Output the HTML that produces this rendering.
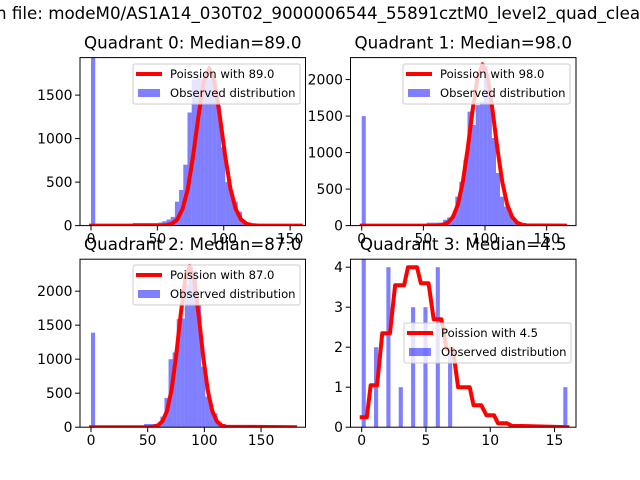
<!DOCTYPE html>
<html><head><meta charset="utf-8"><style>
html,body{margin:0;padding:0;background:#fff}
svg{display:block}
text{font-family:"DejaVu Sans","Liberation Sans",sans-serif}
</style></head><body>
<svg id="fig" width="640" height="480" viewBox="0 0 640 480" xmlns="http://www.w3.org/2000/svg">
<rect width="640" height="480" fill="#fff"/>
<text x="-4" y="19" font-size="16.7" fill="#000">n file: modeM0/AS1A14_030T02_9000006544_55891cztM0_level2_quad_clean.evt</text>
</svg>
<script>
// ---- data ----
const q0BinWidth = 3.16;
const q0BinStart = 10;
const q0Counts = [30,30,30,30,30,30,35,50,70,100,275,410,700,1300,1680,1700,1690,1700,1680,1650,1380,900,500,390,275,160,60,25,8];
const q0ZeroCount = 1930;
const q0CurveX = [0,50,57,61,65,69,73,77,81,85,89,93,97,101,105,109,113,117,121,125,158];
const q0CurveY = [0,0,6,22,71,192,427,810,1262,1657,1810,1657,1262,810,427,192,71,22,6,1,0];

const q1BinWidth = 3.3;
const q1BinStart = 16;
const q1Counts = [40,40,40,40,80,110,145,396,600,900,1560,1378,1650,1700,2186,1834,1200,720,396,260,170,100,40,10];
const q1ZeroCount = 1500;
const q1CurveX = [0,60,62,66,70,74,78,82,86,90,94,98,102,106,110,114,118,122,126,130,134,165];
const q1CurveY = [0,0,3,12,41,118,288,599,1060,1592,2036,2210,2036,1592,1060,599,288,118,41,12,3,0];

const q2BinWidth = 3.6;
const q2BinStart = 13;
const q2Counts = [47,47,47,47,155,430,1000,1100,1590,1600,2100,2360,2300,1800,890,450,330,204,80,47,15];
const q2ZeroCount = 1390;
const q2CurveX = [0,50,55,59,63,67,71,75,79,83,87,91,95,99,103,107,111,115,119,180];
const q2CurveY = [0,0,7,26,87,237,543,1034,1640,2166,2370,2166,1640,1034,543,237,87,26,7,0];

const q3Values = [0,1,2,3,4,5,6,7,16];
const q3Counts = [5,2,4,1,3,3,4,2,1];
const q3BinWidth = 0.32;
const q3CurveX = [0,0.4,0.7,1.2,1.6,2.2,2.6,3.3,3.6,4.3,4.6,5.2,5.6,6.2,6.6,7.1,7.5,8.4,8.7,9.3,9.7,10.3,10.6,11.3,11.7,12.5,16];
const q3CurveY = [0.25,0.25,1.05,1.05,2.35,2.35,3.55,3.55,4.0,4.0,3.6,3.6,2.7,2.7,1.95,1.95,1.0,1.0,0.55,0.55,0.3,0.3,0.1,0.1,0.03,0.03,0];

const titles = ["Quadrant 0: Median=89.0","Quadrant 1: Median=98.0","Quadrant 2: Median=87.0","Quadrant 3: Median=4.5"];
const legendLabels = ["Poission with 89.0","Poission with 98.0","Poission with 87.0","Poission with 4.5"];
const q0XTicks=[0,50,100,150], q0YTicks=[0,500,1000,1500];
const q1XTicks=[0,50,100,150], q1YTicks=[0,500,1000,1500,2000];
const q2XTicks=[0,50,100,150], q2YTicks=[0,500,1000,1500,2000];
const q3XTicks=[0,5,10,15], q3YTicks=[0,1,2,3,4];

// ---- layout ----
const NS="http://www.w3.org/2000/svg";
const svg=document.getElementById('fig');
function mk(tag,attrs,parent){const e=document.createElementNS(NS,tag);for(const k in attrs)e.setAttribute(k,attrs[k]);(parent||svg).appendChild(e);return e;}

const panels=[
 {x0:80,x1:305.5,y0:57.6,y1:225.6,xmin:-8.3,xmax:161.6,ymax:1931,xt:q0XTicks,yt:q0YTicks,leg:[133,64]},
 {x0:350.5,x1:576,y0:57.6,y1:225.6,xmin:-9.1,xmax:173.8,ymax:2301,xt:q1XTicks,yt:q1YTicks,leg:[403,64]},
 {x0:80,x1:305.5,y0:259.2,y1:427.2,xmin:-9.7,xmax:189.2,ymax:2470,xt:q2XTicks,yt:q2YTicks,leg:[133,265]},
 {x0:350.5,x1:576,y0:259.2,y1:427.2,xmin:-0.87,xmax:16.67,ymax:4.2,xt:q3XTicks,yt:q3YTicks,leg:[404,323]}
];

panels.forEach((p,idx)=>{
  const sx=v=>p.x0+(v-p.xmin)/(p.xmax-p.xmin)*(p.x1-p.x0);
  const sy=v=>p.y1-v/p.ymax*(p.y1-p.y0);
  const g=mk('g',{});
  
  
  const cp=mk('clipPath',{id:'clip'+idx},g);
  mk('rect',{x:p.x0,y:p.y0,width:p.x1-p.x0,height:p.y1-p.y0},cp);
  const plot=mk('g',{'clip-path':'url(#clip'+idx+')'},g);
  // bars
  let bars=[];
  if(idx<3){
    const bw=[q0BinWidth,q1BinWidth,q2BinWidth][idx];
    const bs=[q0BinStart,q1BinStart,q2BinStart][idx];
    const cs=[q0Counts,q1Counts,q2Counts][idx];
    const z=[q0ZeroCount,q1ZeroCount,q2ZeroCount][idx];
    bars.push([0,bw,z]);
    cs.forEach((c,i)=>bars.push([(bs+i)*bw,bw,c]));
  } else {
    q3Values.forEach((v,i)=>{let l=Math.floor(v/q3BinWidth)*q3BinWidth;if(l>=16-1e-9)l=16-q3BinWidth;bars.push([l,q3BinWidth,q3Counts[i]]);});
  }
  bars.forEach(b=>{
    const r=mk('rect',{x:sx(b[0]),y:sy(b[2]),width:sx(b[0]+b[1])-sx(b[0]),height:sy(0)-sy(b[2]),fill:'#0000ff','fill-opacity':0.5},plot);
    
    
  });
  // curve
  const cx=[q0CurveX,q1CurveX,q2CurveX,q3CurveX][idx], cy=[q0CurveY,q1CurveY,q2CurveY,q3CurveY][idx];
  const pts=cx.map((x,i)=>sx(x).toFixed(2)+','+sy(cy[i]).toFixed(2)).join(' ');
  const pl=mk('polyline',{points:pts,fill:'none',stroke:'#ff0000','stroke-width':4,'stroke-linejoin':'round','stroke-linecap':'square'},plot);
  
  
  // frame
  const fr=mk('rect',{x:p.x0,y:p.y0,width:p.x1-p.x0,height:p.y1-p.y0,fill:'none',stroke:'#000','stroke-width':1},g);
  
  
  // ticks
  p.xt.forEach(t=>{
    const x=sx(t);
    mk('line',{x1:x,x2:x,y1:p.y1,y2:p.y1+4.9,stroke:'#000','stroke-width':1},g);
    const tx=mk('text',{x:x,y:p.y1+18,'font-size':13.9,'text-anchor':'middle'},g);
    tx.textContent=t;
    
    
  });
  p.yt.forEach(t=>{
    const y=sy(t);
    mk('line',{x1:p.x0-4.9,x2:p.x0,y1:y,y2:y,stroke:'#000','stroke-width':1},g);
    const tx=mk('text',{x:p.x0-7.5,y:y+5,'font-size':13.9,'text-anchor':'end'},g);
    tx.textContent=t;
    
    
  });
  // title
  const ti=mk('text',{x:(p.x0+p.x1)/2,y:p.y0-9,'font-size':16.7,'text-anchor':'middle'},g);
  ti.textContent=titles[idx];
  
  
  // legend
  const [lx,ly]=p.leg;
  const lg=mk('g',{},g);
  
  
  mk('rect',{x:lx,y:ly,width:167,height:40,rx:2,fill:'#fff','fill-opacity':0.8,stroke:'#cccccc','stroke-width':1},lg);
  const ll=mk('line',{x1:lx+3,x2:lx+29,y1:ly+10,y2:ly+10,stroke:'#ff0000','stroke-width':4},lg);
  
  
  const t1=mk('text',{x:lx+37,y:ly+14,'font-size':11.6},lg);
  t1.textContent=legendLabels[idx];
  
  
  const lr=mk('rect',{x:lx+5,y:ly+25,width:22,height:8,fill:'#0000ff','fill-opacity':0.5},lg);
  
  
  const t2=mk('text',{x:lx+37,y:ly+33,'font-size':11.6},lg);
  t2.textContent='Observed distribution';
  
  
});
</script>
</body></html>
